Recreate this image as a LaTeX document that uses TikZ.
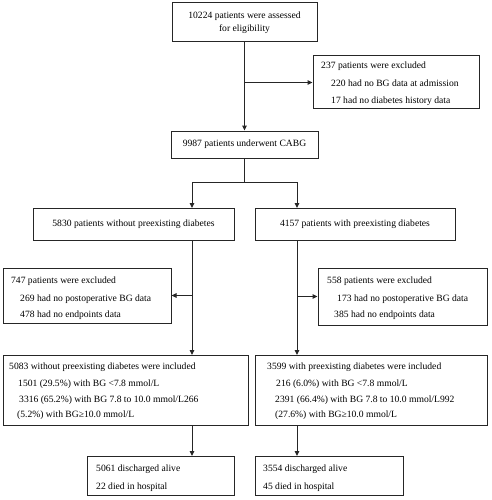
\documentclass[tikz,border=0pt]{standalone}
\usepackage{fontspec}
\setmainfont{Liberation Serif}
\usetikzlibrary{arrows.meta}
\begin{document}
\begin{tikzpicture}[x=1pt,y=-1pt,
  box/.style={draw=black!85,line width=1pt,inner sep=0pt,rectangle},
  txt/.style={inner sep=0pt,anchor=base west,font=\fontsize{9.6}{11}\selectfont},
  ctxt/.style={inner sep=0pt,align=center,font=\fontsize{9.6}{13.5}\selectfont},
  conn/.style={draw=black!85,line width=1pt},
  arr/.style={conn,-{Triangle[length=5pt,width=4.5pt]}}]
\useasboundingbox (0,0) rectangle (491,500);
% boxes
\node[box,minimum width=145pt,minimum height=39pt] (b1) at (244.5,22.5) {};
\node[box,minimum width=166pt,minimum height=53pt] (ex1) at (396,82.5) {};
\node[box,minimum width=147pt,minimum height=27pt] (b2) at (244.5,144.5) {};
\node[box,minimum width=201pt,minimum height=32pt] (L1) at (133.5,224) {};
\node[box,minimum width=200pt,minimum height=32pt] (R1) at (355,224) {};
\node[box,minimum width=168pt,minimum height=55pt] (exL) at (87,295.5) {};
\node[box,minimum width=169pt,minimum height=57pt] (exR) at (402.5,296.5) {};
\node[box,minimum width=245pt,minimum height=70pt] (L2) at (125.5,390) {};
\node[box,minimum width=232pt,minimum height=70pt] (R2) at (371,390) {};
\node[box,minimum width=147pt,minimum height=39pt] (L3) at (160.5,475.5) {};
\node[box,minimum width=148pt,minimum height=39pt] (R3) at (329,475.5) {};
% texts
\node[ctxt] (t1) at (b1.center) {10224 patients were assessed\\for eligibility};
\node[txt] (te1a) at (321,69) {237 patients were excluded};
\node[txt] (te1b) at (331,86.5) {220 had no BG data at admission};
\node[txt] (te1c) at (331,103.5) {17 had no diabetes history data};
\node[ctxt] (t2) at (b2.center) {9987 patients underwent CABG};
\node[ctxt] (tL1) at (L1.center) {5830 patients without preexisting diabetes};
\node[ctxt] (tR1) at (R1.center) {4157 patients with preexisting diabetes};
\node[txt] (teLa) at (11,283.5) {747 patients were excluded};
\node[txt] (teLb) at (20,301) {269 had no postoperative BG data};
\node[txt] (teLc) at (20,317) {478 had no endpoints data};
\node[txt] (teRa) at (327,283.5) {558 patients were excluded};
\node[txt] (teRb) at (337,301) {173 had no postoperative BG data};
\node[txt] (teRc) at (334,317) {385 had no endpoints data};
\node[txt] (tL2a) at (9,369) {5083 without preexisting diabetes were included};
\node[txt] (tL2b) at (18,386) {1501 (29.5\%) with BG <7.8 mmol/L};
\node[txt] (tL2c) at (19,402) {3316 (65.2\%) with BG 7.8 to 10.0 mmol/L266};
\node[txt] (tL2d) at (17,417.5) {(5.2\%) with BG≥10.0 mmol/L};
\node[txt] (tR2a) at (267,369) {3599 with preexisting diabetes were included};
\node[txt] (tR2b) at (276,386) {216 (6.0\%) with BG <7.8 mmol/L};
\node[txt] (tR2c) at (275,402) {2391 (66.4\%) with BG 7.8 to 10.0 mmol/L992};
\node[txt] (tR2d) at (275,417.5) {(27.6\%) with BG≥10.0 mmol/L};
\node[txt] (tL3a) at (96,471) {5061 discharged alive};
\node[txt] (tL3b) at (96,489) {22 died in hospital};
\node[txt] (tR3a) at (263,471) {3554 discharged alive};
\node[txt] (tR3b) at (263,489) {45 died in hospital};
% helper coordinates
\coordinate (j1) at (244.5,82.5);
\coordinate (s) at (244.5,182);
\coordinate (L1t) at (192,208);
\coordinate (R1t) at (297,208);
\coordinate (L1b) at (192,240);
\coordinate (R1b) at (297,240);
\coordinate (L2t) at (192,355);
\coordinate (R2t) at (297,355);
\coordinate (jL) at (192,295.5);
\coordinate (jR) at (297,296.5);
\coordinate (L2b) at (192,425);
\coordinate (R2b) at (297,425);
\coordinate (L3t) at (192,456);
\coordinate (R3t) at (297,456);
% connectors
\draw[arr] (b1.south) -- (b2.north);
\draw[arr] (j1) -- (ex1.west);
\draw[arr] (b2.south) -- (s) -| (L1t);
\draw[arr] (s) -| (R1t);
\draw[arr] (L1b) -- (L2t);
\draw[arr] (R1b) -- (R2t);
\draw[arr] (jL) -- (exL.east);
\draw[arr] (jR) -- (exR.west);
\draw[arr] (L2b) -- (L3t);
\draw[arr] (R2b) -- (R3t);
\end{tikzpicture}
\end{document}
